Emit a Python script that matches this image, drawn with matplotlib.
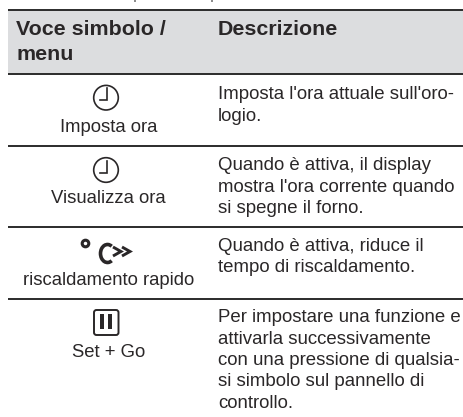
import matplotlib
matplotlib.use("Agg")
import matplotlib.pyplot as plt
from matplotlib.patches import Rectangle, Circle, FancyBboxPatch, Arc

plt.rcParams['font.family'] = ['Liberation Sans', 'DejaVu Sans']

header_left = ["Voce simbolo /", "menu"]
header_right = "Descrizione"
names = ["Imposta ora", "Visualizza ora", "riscaldamento rapido", "Set + Go"]
descriptions = [
    ["Imposta l'ora attuale sull'oro-", "logio."],
    ["Quando è attiva, il display", "mostra l'ora corrente quando", "si spegne il forno."],
    ["Quando è attiva, riduce il", "tempo di riscaldamento."],
    ["Per impostare una funzione e", "attivarla successivamente", "con una pressione di qualsia-", "si simbolo sul pannello di", "controllo."],
]
rules_y = [10, 74, 146, 227, 298.5]
name_base = [131.5, 203, 285, 357]
desc_base = [99, 170, 251, 322]
clock_y = [97.7, 170]

W, H = 464, 417
INK = "#2a2728"
fig = plt.figure(figsize=(W / 100, H / 100), dpi=100)
ax = fig.add_axes([0, 0, 1, 1])
ax.set_xlim(0, W)
ax.set_ylim(H, 0)
ax.axis("off")

ax.add_patch(Rectangle((8, 10), W - 8, 64, facecolor="#dcdddf", edgecolor="none"))
for y in rules_y:
    ax.plot([8, W + 1], [y, y], color="#2b2b2b", lw=1.4, solid_capstyle="butt")

# clipped descenders of the line above the table
for x in (135, 212):
    ax.plot([x, x], [0, 1.5], color="#777777", lw=1.2, solid_capstyle="butt")

for i, line in enumerate(header_left):
    ax.text(16, 35 + i * 25, line, fontsize=15.4, fontweight="bold", color=INK,
            va="baseline", ha="left")
ax.text(218, 35, header_right, fontsize=15.4, fontweight="bold", color=INK,
        va="baseline", ha="left")

for n, y in zip(names, name_base):
    ax.text(108.5, y, n, fontsize=13.35, color=INK, ha="center", va="baseline")

for lines, y0 in zip(descriptions, desc_base):
    for i, line in enumerate(lines):
        ax.text(218, y0 + i * 21.5, line, fontsize=13.4, color=INK, ha="left", va="baseline")

# clock icons
for y in clock_y:
    ax.add_patch(Circle((106, y), 12.3, fill=False, edgecolor=INK, lw=1.2))
    ax.plot([107, 107, 100], [y - 9.5, y + 2.5, y + 2.5], color=INK, lw=1.2,
            solid_joinstyle="miter")

# fast heat icon
ax.add_patch(Circle((85.5, 243.5), 3.3, fill=False, edgecolor=INK, lw=2.2))
ax.add_patch(Arc((107.5, 253.5), 14, 18, theta1=60, theta2=300, edgecolor=INK, lw=2.6))
for dx in (0, 9):
    ax.plot([113 + dx, 121 + dx, 113 + dx], [247, 251.5, 256], color=INK, lw=2.1,
            solid_joinstyle="miter", solid_capstyle="butt")

# pause icon
ax.add_patch(FancyBboxPatch((94, 310), 24.5, 25, boxstyle="round,pad=0,rounding_size=2.5",
                            fill=False, edgecolor=INK, lw=1.4))
ax.add_patch(Rectangle((100, 314), 4.5, 15, color=INK, lw=0))
ax.add_patch(Rectangle((108, 314), 4.5, 15, color=INK, lw=0))

fig.savefig("out.png", dpi=100)
